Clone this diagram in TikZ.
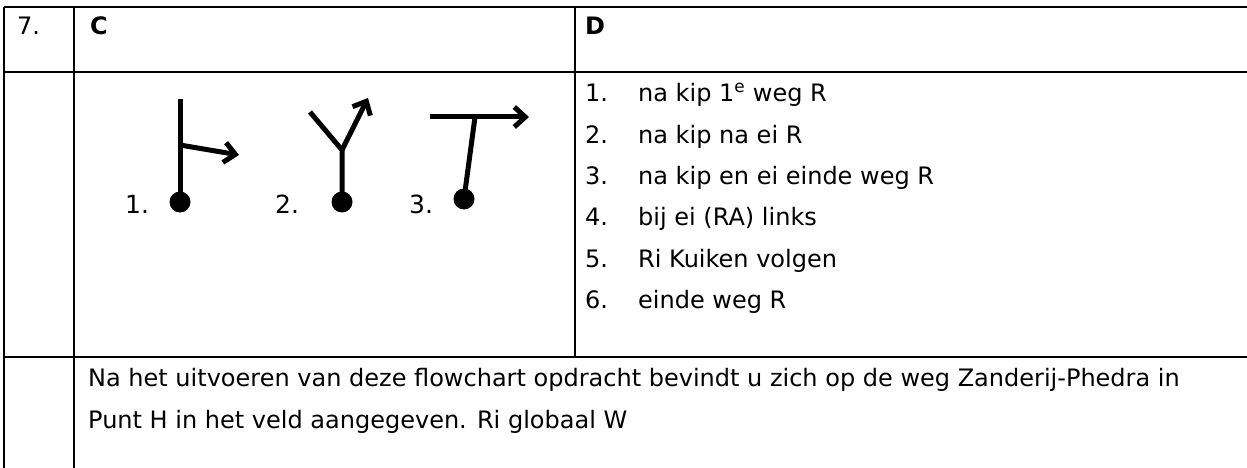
\documentclass[tikz,border=0pt]{standalone}
\usepackage{fontspec}
\setmainfont{DejaVu Sans}
\usetikzlibrary{arrows.meta}

\begin{document}
\begin{tikzpicture}[x=1pt,y=-1pt,
    rule/.style={line width=2.8pt},
    thinrule/.style={line width=1.4pt},
    road/.style={line width=5pt},
    roadarrow/.style={road,-{Straight Barb[length=11pt,width=20pt]}},
    dot/.style={circle,fill=black,inner sep=0pt,minimum size=21pt},
    txt/.style={anchor=base west,inner sep=0pt,font=\fontsize{24}{29}\selectfont},
    lbl/.style={anchor=base west,inner sep=0pt,font=\fontsize{25}{30}\selectfont}]
    \useasboundingbox (0,0) rectangle (1247,468);

    %% Table rules
    \draw [rule] (4,7) -- (1247,7);
    \draw [rule] (4,7) -- (4,468);
    \draw [rule] (74,7) -- (74,468);
    \draw [rule] (575,7) -- (575,357);
    \draw [rule] (4,72) -- (89,72);
    \draw [thinrule] (89,72) -- (562,72);
    \draw [rule] (562,72) -- (1247,72);
    \draw [rule] (4,357) -- (1247,357);

    %% Header row
    \node [txt] (nr) at (17,35) {7.};
    \node [txt,font=\fontsize{24}{29}\selectfont\bfseries] (colC) at (90,35) {C};
    \node [txt,font=\fontsize{24}{29}\selectfont\bfseries] (colD) at (585,35) {D};

    %% Sign 1
    \node [dot] (dot1) at (180,202) {};
    \coordinate (top1) at (180,99);
    \coordinate (fork1) at (180,145);
    \coordinate (tip1) at (239,155);
    \draw [road] (dot1.center) -- (top1);
    \draw [roadarrow] (fork1) -- (tip1);
    \node [lbl] (lbl1) at (125,213) {1.};

    %% Sign 2
    \node [dot] (dot2) at (342,202) {};
    \coordinate (fork2) at (342,150);
    \coordinate (left2) at (310,112);
    \coordinate (tip2) at (368,98);
    \draw [road] (dot2.center) -- (fork2) -- (left2);
    \draw [roadarrow] (fork2) -- (tip2);
    \node [lbl] (lbl2) at (275,213) {2.};

    %% Sign 3
    \node [dot] (dot3) at (464,199) {};
    \coordinate (fork3) at (475,117);
    \coordinate (left3) at (430,117);
    \coordinate (tip3) at (529,117);
    \draw [road] (dot3.center) -- (fork3);
    \draw [roadarrow] (left3) -- (tip3);
    \node [lbl] (lbl3) at (409,213) {3.};

    %% Directions list
    \foreach \n/\y/\t in {1/102/{na kip 1\textsuperscript{e} weg R},
                          2/143/{na kip na ei R},
                          3/184/{na kip en ei einde weg R},
                          4/225/{bij ei (RA) links},
                          5/267/{Ri Kuiken volgen},
                          6/308/{einde weg R}} {
        \node [txt] (num\n) at (585,\y) {\n.};
        \node [txt] (item\n) at (638,\y) {\t};
    }

    %% Closing remark
    \node [txt] (note1) at (88,386) {Na het uitvoeren van deze flowchart opdracht bevindt u zich op de weg Zanderij-Phedra in};
    \node [txt] (note2) at (88,428) {Punt H in het veld aangegeven. Ri globaal W};
\end{tikzpicture}
\end{document}
